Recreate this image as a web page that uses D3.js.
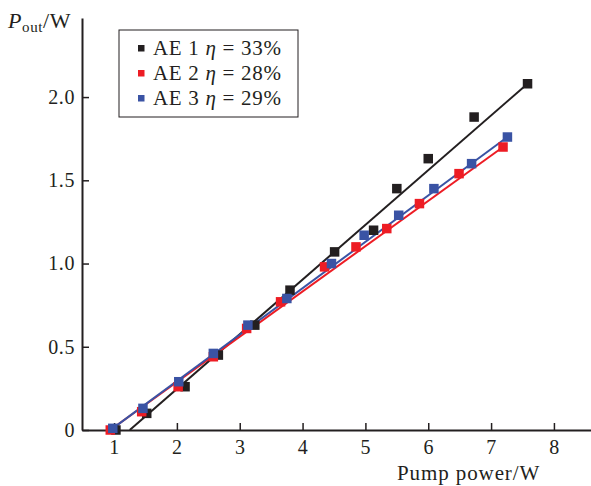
<!DOCTYPE html>
<html>
<head>
<meta charset="utf-8">
<script src="https://cdn.jsdelivr.net/npm/d3@7"></script>
<style>
  body { margin: 0; background: #fff; }
  text { font-family: "Liberation Serif", "DejaVu Serif", serif; fill: #231f20; }
</style>
</head>
<body>
<div id="viz"></div>
<script>
// data
var pumpAE1 = [1.03, 1.52, 2.13, 2.66, 3.24, 3.80, 4.51, 5.13, 5.50, 6.00, 6.73, 7.58];
var outAE1  = [0.00, 0.10, 0.26, 0.45, 0.63, 0.84, 1.07, 1.20, 1.45, 1.63, 1.88, 2.08];
var pumpAE2 = [0.94, 1.44, 2.02, 2.58, 3.11, 3.65, 4.35, 4.85, 5.34, 5.86, 6.49, 7.19];
var outAE2  = [0.00, 0.11, 0.26, 0.44, 0.61, 0.77, 0.98, 1.10, 1.21, 1.36, 1.54, 1.70];
var pumpAE3 = [0.98, 1.46, 2.03, 2.58, 3.13, 3.75, 4.46, 4.98, 5.53, 6.09, 6.69, 7.26];
var outAE3  = [0.01, 0.13, 0.29, 0.46, 0.63, 0.79, 1.00, 1.17, 1.29, 1.45, 1.60, 1.76];

// fitted lines (end points)
var fitAE1 = [[1.25, 0.00], [7.58, 2.08]];
var fitAE2 = [[0.94, 0.00], [7.19, 1.70]];
var fitAE3 = [[0.98, 0.01], [7.26, 1.76]];

var seriesNames = ["AE 1", "AE 2", "AE 3"];
var etaLabels = ["33%", "28%", "29%"];
var xTicks = [1, 2, 3, 4, 5, 6, 7, 8];
var yTicks = [0, 0.5, 1.0, 1.5, 2.0];
var yTickLabels = ["0", "0.5", "1.0", "1.5", "2.0"];

var colors = ["#231f20", "#ed1c24", "#3a53a4"];

var margin = {top: 18, right: 0, bottom: 56, left: 82},
    width = 591 - margin.left - margin.right,
    height = 486 - margin.top - margin.bottom;

var svg = d3.select("#viz")
  .append("svg")
    .attr("width", 591)
    .attr("height", 486)
  .append("g")
    .attr("transform", "translate(" + margin.left + "," + margin.top + ")");

var x = d3.scaleLinear().domain([0.49, 8.59]).range([0, width]);
var y = d3.scaleLinear().domain([0, 2.475]).range([height, 0]);

function zip(a, b) { return a.map(function(v, i) { return [v, b[i]]; }); }
var series = [
  {pts: zip(pumpAE1, outAE1), fit: fitAE1},
  {pts: zip(pumpAE2, outAE2), fit: fitAE2},
  {pts: zip(pumpAE3, outAE3), fit: fitAE3}
];

// axes
var xAxis = svg.append("g")
    .attr("transform", "translate(0," + height + ")")
    .call(d3.axisBottom(x).tickValues(xTicks).tickFormat(d3.format("d"))
      .tickSizeInner(-7).tickSizeOuter(0).tickPadding(10));
var yAxis = svg.append("g")
    .call(d3.axisLeft(y).tickValues(yTicks)
      .tickFormat(function(d, i) { return yTickLabels[i]; })
      .tickSizeInner(-7).tickSizeOuter(0).tickPadding(7));

[xAxis, yAxis].forEach(function(a) {
  a.select(".domain").attr("stroke", "#231f20").attr("stroke-width", 2);
  a.selectAll(".tick line").attr("stroke", "#231f20").attr("stroke-width", 1.5);
  a.selectAll(".tick text").style("font-size", "20px").attr("fill", "#231f20")
    .style("font-family", "Liberation Serif").style("letter-spacing", "0.6px");
});

var line = d3.line()
  .x(function(d) { return x(d[0]); })
  .y(function(d) { return y(d[1]); });

// fit lines
series.forEach(function(s, i) {
  svg.append("path")
    .datum(s.fit)
    .attr("d", line)
    .attr("stroke", colors[i])
    .attr("stroke-width", 2)
    .attr("fill", "none");
});

// markers
var ms = 9.5;
series.forEach(function(s, i) {
  svg.append("g").selectAll("rect")
    .data(s.pts)
    .enter()
    .append("rect")
      .attr("x", function(d) { return x(d[0]) - ms / 2; })
      .attr("y", function(d) { return y(d[1]) - ms / 2; })
      .attr("width", ms)
      .attr("height", ms)
      .attr("fill", colors[i]);
});

// y title
var yt = svg.append("text")
  .attr("x", 8 - margin.left)
  .attr("y", 28 - margin.top)
  .style("font-size", "22px")
  .style("letter-spacing", "0.6px");
yt.append("tspan").style("font-style", "italic").text("P");
yt.append("tspan").attr("dy", 4).style("font-size", "15px").text("out");
yt.append("tspan").attr("dy", -4).text("/W");

// x title
svg.append("text")
  .attr("x", 397 - margin.left)
  .attr("y", 480 - margin.top)
  .style("font-size", "21px")
  .style("letter-spacing", "0.9px")
  .text("Pump power/W");

// legend
var lg = svg.append("g").attr("transform", "translate(" + (119 - margin.left) + "," + (30 - margin.top) + ")");
lg.append("rect")
  .attr("width", 179).attr("height", 87)
  .attr("fill", "#fff").attr("stroke", "#231f20").attr("stroke-width", 1);
seriesNames.forEach(function(n, i) {
  var row = lg.append("g").attr("transform", "translate(0," + (18 + i * 25) + ")");
  row.append("rect")
    .attr("x", 19).attr("y", -3).attr("width", 6.5).attr("height", 6.5)
    .attr("fill", colors[i]);
  var t = row.append("text").attr("x", 34).attr("y", 7)
    .style("font-size", "21px").style("letter-spacing", "0.7px");
  t.append("tspan").text(n + " ");
  t.append("tspan").style("font-style", "italic").text("\u03b7");
  t.append("tspan").text(" = " + etaLabels[i]);
});
</script>
</body>
</html>
